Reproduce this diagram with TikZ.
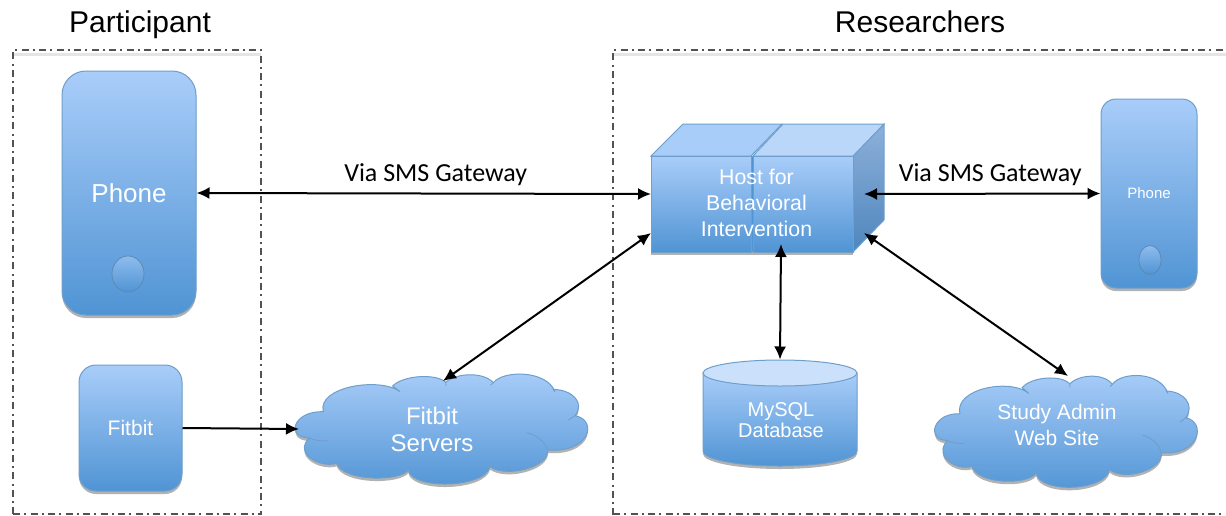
\documentclass[tikz,border=0pt]{standalone}
\usepackage{fontspec}
\setmainfont{Liberation Sans}
\newfontfamily\gatewayfont{Carlito}
\usetikzlibrary{shadows,shapes.geometric,arrows.meta}

\tikzset{
	bluefill/.style={top color=blueTop,bottom color=blueBot,draw=blueEdge,line width=1pt},
	softshadow/.style={drop shadow={shadow xshift=0pt,shadow yshift=-3pt,opacity=0.3,fill=black}},
	device/.style={bluefill,softshadow,rounded corners=#1,text=white,align=center,inner sep=0pt},
	button/.style={ellipse,top color=blueTop!70!blueBot,bottom color=blueBot,draw=blueEdge!85!black,line width=0.7pt,inner sep=0pt},
	label/.style={text=white,align=center,inner sep=0pt},
	title/.style={anchor=base,inner sep=0pt,font=\fontsize{30}{30}\selectfont},
	zone/.style={draw=black!68,line width=2pt,dash pattern=on 7pt off 4pt on 2pt off 4.5pt},
	zoneglow/.style={draw=black!10,line width=3pt},
	sms/.style={above=7pt,inner sep=0pt,font=\gatewayfont\fontsize{26}{26}\selectfont},
	link/.style={line width=2pt,{Latex[length=13pt,width=12pt]}-{Latex[length=13pt,width=12pt]}},
	seam/.style={blueEdge,line width=0.8pt},
	puffy/.pic={
		\path [bluefill,softshadow] (88,264)
			.. controls (15,262) and (40,182) .. (130,185)
			.. controls (110,110) and (300,80) .. (360,125)
			-- (338,108)
			.. controls (370,75) and (470,70) .. (497,97)
			.. controls (530,68) and (610,65) .. (640,98)
			.. controls (670,60) and (800,60) .. (825,125)
			-- (820,118)
			.. controls (880,120) and (915,160) .. (885,197)
			.. controls (955,210) and (930,310) .. (803,300)
			.. controls (810,350) and (680,385) .. (630,350)
			.. controls (615,415) and (395,420) .. (385,360)
			.. controls (360,395) and (190,395) .. (170,340)
			.. controls (120,355) and (40,310) .. (88,264) -- cycle;
		\draw [seam] (88,264) .. controls (105,272) and (125,274) .. (145,272);
		\draw [seam] (865,210) -- (885,197);
		\draw [seam] (740,248) .. controls (770,255) and (795,275) .. (803,300);
		\draw [seam] (497,97) -- (498,108);
		\draw [seam] (640,98) -- (632,105);
		\draw [seam] (630,350) -- (632,335);
		\draw [seam] (385,360) -- (370,350);
		\draw [seam] (170,340) -- (190,350);
	}
}
\definecolor{blueTop}{HTML}{A9CDF9}
\definecolor{blueBot}{HTML}{5094D4}
\definecolor{blueEdge}{HTML}{6E9FCB}
\definecolor{sideTop}{HTML}{8DB0DA}
\definecolor{sideBot}{HTML}{4F86BD}

\begin{document}
\begin{tikzpicture}[x=1pt,y=-1pt]
	\useasboundingbox (0,0) rectangle (1226,515);
	\fill [white] (0,0) rectangle (1226,515);

	% dashed regions
	\begin{scope}
		\clip (0,0) rectangle (1226,515);
		\draw [zoneglow] (14,54) -- (261,54);
		\draw [zoneglow] (614,54) -- (1226,54);
		\draw [zone] (13,514) -- (13,50) -- (261,50) -- (261,515);
		\draw [zone] (13,514) -- (261,514);
		\draw [zone] (613,515) -- (613,50) -- (1226,50);
		\draw [zone] (613,514) -- (1226,514);
	\end{scope}
	\node [title] (participant) at (140,32) {Participant};
	\node [title] (researchers) at (920,32) {Researchers};

	% participant side
	\node [device=24pt,minimum width=134pt,minimum height=244pt,font=\fontsize{26}{26}\selectfont] (phoneA) at (129,193) {Phone};
	\node [button,minimum width=32pt,minimum height=36pt] (buttonA) at (128,274) {};
	\node [device=17pt,minimum width=103pt,minimum height=126pt,font=\fontsize{21}{21}\selectfont] (fitbit) at (130.5,428) {Fitbit};

	% fitbit cloud
	\pic [shift={(280,350)},scale=1/3] {puffy};
	\node [label,font=\fontsize{24}{27}\selectfont] (fitbitCloud) at (432,429) {Fitbit\\Servers};
	\coordinate (fitbitTop) at (443,381);
	\coordinate (fitbitLeft) at (299,429);

	% host box
	\path [softshadow,fill=blueBot] (651,156) rectangle (853,252);
	\path [draw=blueEdge,line width=1pt,top color=sideTop,bottom color=sideBot] (853,156) -- (884,124) -- (884,220) -- (853,252) -- cycle;
	\path [draw=blueEdge,line width=1pt,fill=blueTop] (651,156) -- (683,124) -- (782,124) -- (751,156) -- cycle;
	\path [draw=blueEdge,line width=1pt,fill=blueTop!80!white] (753,156) -- (783,124) -- (884,124) -- (853,156) -- cycle;
	\node [bluefill,minimum width=100pt,minimum height=96pt,inner sep=0pt] (hostA) at (701,204) {};
	\node [bluefill,minimum width=100pt,minimum height=96pt,inner sep=0pt] (hostB) at (803,204) {};
	\node [label,font=\fontsize{21.3}{26}\selectfont] (host) at (756.5,203) {Host for\\Behavioral\\Intervention};
	\coordinate (hostW) at (651,194);
	\coordinate (hostSW) at (651,233);
	\coordinate (hostE) at (864,194);
	\coordinate (hostSE) at (864,233);
	\coordinate (hostS) at (781,244);

	% database
	\path [bluefill,softshadow] (703,373) -- (703,451) arc (180:0:77 and 15) -- (857,373) -- cycle;
	\node [ellipse,draw=blueEdge,line width=1pt,fill=blueTop!60!white,minimum width=154pt,minimum height=26pt,inner sep=0pt] (dbTop) at (780,373) {};
	\node [label,font=\fontsize{20}{21}\selectfont] (db) at (781,420.5) {MySQL\\Database};

	% researcher phone
	\node [device=15pt,minimum width=96pt,minimum height=189pt,font=\fontsize{15}{15}\selectfont] (phoneB) at (1149,193.5) {Phone};
	\node [button,minimum width=22pt,minimum height=29pt] (buttonB) at (1150,260) {};

	% admin cloud
	\pic [shift={(921,351)},xscale=0.2993,yscale=0.339] {puffy};
	\node [label,font=\fontsize{21}{26}\selectfont] (adminCloud) at (1057,425) {Study Admin\\Web Site};
	\coordinate (adminTop) at (1068,376);

	% links
	\draw [link] (phoneA.east) -- node [sms,xshift=12pt] (smsA) {Via SMS Gateway} (hostW);
	\draw [link] (hostE) -- node [sms,xshift=8pt] (smsB) {Via SMS Gateway} (phoneB.west);
	\draw [link] (hostSW) -- (fitbitTop);
	\draw [link] (hostS) -- (dbTop.north);
	\draw [link] (hostSE) -- (adminTop);
	\draw [line width=2pt,-{Latex[length=13pt,width=12pt]}] (fitbit.east) -- (fitbitLeft);
\end{tikzpicture}
\end{document}
